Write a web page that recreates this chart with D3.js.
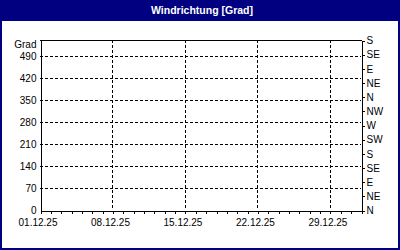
<!DOCTYPE html>
<html>
<head>
<meta charset="utf-8">
<script src="https://cdn.jsdelivr.net/npm/d3@7"></script>
<style>
  body { margin: 0; background: #fff; }
  svg { display: block; font-family: "Liberation Sans", Arial, sans-serif; }
  .axis text { font-size: 10px; fill: #000; }
  .axis path, .axis line { stroke: #000; shape-rendering: crispEdges; }
  .grid line { stroke: #000; stroke-dasharray: 3,2; shape-rendering: crispEdges; }
</style>
</head>
<body>
<svg></svg>
<script>
let title = 'Windrichtung [Grad]';
let unitLabel = 'Grad';

// x range: one month, labelled weekly
let startDate = new Date(2025, 11, 1);
let endDate = new Date(2026, 0, 1);
let weekDates = ['2025-12-01', '2025-12-08', '2025-12-15', '2025-12-22', '2025-12-29'];

// left axis in degrees, right axis as compass points
let gradTicks = [0, 70, 140, 210, 280, 350, 420, 490];
let compassValues = [0, 45, 90, 135, 180, 225, 270, 315, 360, 405, 450, 495, 540];
let compassLabels = ['N', 'NE', 'E', 'SE', 'S', 'SW', 'W', 'NW', 'N', 'NE', 'E', 'SE', 'S'];

// measured values (none in this period)
let windDates = [];
let windDirection = [];

let width = 400;
let height = 250;
let plotLeft = 40;
let plotRight = 361;
let plotTop = 40;
let plotBottom = 210;

const svg = d3.select('svg');

let drawCanvas = () => {
    svg.attr('width', width).attr('height', height);

    svg.append('rect')
       .attr('width', width)
       .attr('height', height)
       .attr('fill', '#000080');

    svg.append('rect')
       .attr('x', 2)
       .attr('y', 21)
       .attr('width', width - 4)
       .attr('height', height - 23)
       .attr('fill', '#fff');

    svg.append('text')
       .attr('x', 202)
       .attr('y', 10)
       .attr('dy', '0.35em')
       .attr('text-anchor', 'middle')
       .attr('fill', '#fff')
       .style('font-size', '10.5px')
       .style('font-weight', 'bold')
       .text(title);
}

let xScale = d3.scaleTime()
               .domain([startDate, endDate])
               .range([plotLeft, plotRight]);

let yScale = d3.scaleLinear()
               .domain([0, 540])
               .range([plotBottom, plotTop]);

let parseDay = d3.timeParse('%Y-%m-%d');

let drawGrid = () => {
    let grid = svg.append('g').attr('class', 'grid');

    grid.selectAll('.h')
        .data(gradTicks.filter(d => d > 0))
        .enter()
        .append('line')
        .attr('x1', plotLeft)
        .attr('x2', plotRight)
        .attr('y1', d => Math.round(yScale(d)) + 0.5)
        .attr('y2', d => Math.round(yScale(d)) + 0.5);

    grid.selectAll('.v')
        .data(weekDates.slice(1))
        .enter()
        .append('line')
        .attr('x1', d => Math.round(xScale(parseDay(d))) + 0.5)
        .attr('x2', d => Math.round(xScale(parseDay(d))) + 0.5)
        .attr('y1', plotTop)
        .attr('y2', plotBottom);
}

let drawAxes = () => {
    // daily minor ticks
    svg.append('g')
       .attr('class', 'axis')
       .attr('transform', 'translate(0.5, ' + (plotBottom + 0.5) + ')')
       .call(d3.axisBottom(xScale)
               .ticks(d3.timeDay.every(1))
               .tickSize(3)
               .tickSizeOuter(0)
               .tickFormat(''));

    // weekly labels
    let xLabels = svg.append('g')
       .attr('class', 'axis')
       .attr('transform', 'translate(0.5, ' + (plotBottom + 0.5) + ')')
       .call(d3.axisBottom(xScale)
               .tickValues(weekDates.map(parseDay))
               .tickSize(3)
               .tickSizeOuter(0)
               .tickPadding(5)
               .tickFormat(d3.timeFormat('%d.%m.%y')));
    xLabels.select('.domain').remove();
    xLabels.selectAll('text').attr('dx', -3);

    let yAxis = svg.append('g')
       .attr('class', 'axis')
       .attr('transform', 'translate(' + (plotLeft + 0.5) + ', 0.5)')
       .call(d3.axisLeft(yScale)
               .tickValues(gradTicks)
               .tickSize(0)
               .tickSizeOuter(0)
               .tickPadding(4));

    yAxis.append('text')
       .attr('x', -4)
       .attr('y', plotTop + 4)
       .attr('dy', '0.32em')
       .attr('text-anchor', 'end')
       .text(unitLabel);

    svg.append('g')
       .attr('class', 'axis')
       .attr('transform', 'translate(' + (plotRight + 0.5) + ', 0.5)')
       .call(d3.axisRight(yScale)
               .tickValues(compassValues)
               .tickSize(3)
               .tickSizeOuter(0)
               .tickPadding(2)
               .tickFormat((d, i) => compassLabels[i]));

    // top border of plot
    svg.append('line')
       .attr('x1', plotLeft)
       .attr('x2', plotRight + 1)
       .attr('y1', plotTop + 0.5)
       .attr('y2', plotTop + 0.5)
       .attr('stroke', '#000');
}

let drawData = () => {
    let line = d3.line()
                 .x((d, i) => xScale(parseDay(windDates[i])))
                 .y(d => yScale(d));

    svg.append('path')
       .datum(windDirection)
       .attr('fill', 'none')
       .attr('stroke', '#000080')
       .attr('d', windDirection.length ? line(windDirection) : null);
}

drawCanvas();
drawGrid();
drawAxes();
drawData();
</script>
</body>
</html>
